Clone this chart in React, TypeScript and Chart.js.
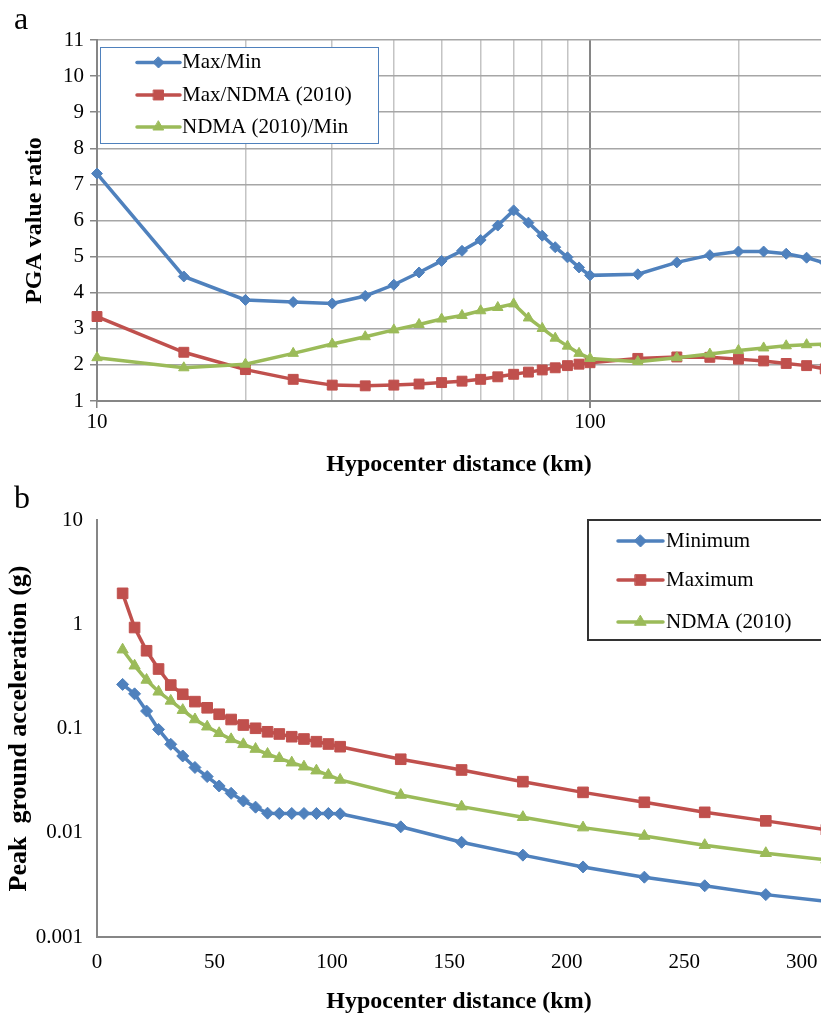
import React, { useEffect, useRef } from 'react';
import { Chart, registerables } from 'chart.js';

Chart.register(...registerables);

// ---------- Panel a: PGA value ratios ----------
const distA = [10, 15, 20, 25, 30, 35, 40, 45, 50, 55, 60, 65, 70, 75, 80, 85, 90, 95, 100, 125, 150, 175, 200, 225, 250, 275, 300];
const ratioMaxMin = [7.3, 4.45, 3.8, 3.74, 3.7, 3.91, 4.22, 4.56, 4.88, 5.16, 5.46, 5.86, 6.28, 5.94, 5.58, 5.26, 4.98, 4.7, 4.48, 4.51, 4.84, 5.04, 5.14, 5.14, 5.08, 4.97, 4.82];
const ratioMaxNdma = [3.34, 2.35, 1.87, 1.6, 1.44, 1.42, 1.44, 1.47, 1.51, 1.55, 1.6, 1.67, 1.74, 1.8, 1.86, 1.92, 1.98, 2.02, 2.06, 2.18, 2.22, 2.21, 2.16, 2.11, 2.04, 1.98, 1.89];
const ratioNdmaMin = [2.2, 1.92, 2.02, 2.32, 2.58, 2.78, 2.97, 3.12, 3.27, 3.37, 3.5, 3.59, 3.69, 3.3, 3.01, 2.74, 2.52, 2.32, 2.18, 2.09, 2.2, 2.3, 2.4, 2.47, 2.53, 2.56, 2.58];
const seriesNamesA = ['Max/Min', 'Max/NDMA (2010)', 'NDMA (2010)/Min'];
const yTicksA = [1, 2, 3, 4, 5, 6, 7, 8, 9, 10, 11];
const xTicksA = [10, 20, 30, 40, 50, 60, 70, 80, 90, 100, 200];
const xLabeledA = [10, 100];

// ---------- Panel b: peak ground acceleration ----------
const distB = [10.9, 16.0, 21.1, 26.2, 31.4, 36.5, 41.7, 46.9, 52.0, 57.1, 62.3, 67.5, 72.6, 77.6, 82.9, 88.1, 93.4, 98.5, 103.5, 129.3, 155.2, 181.3, 206.9, 233.0, 258.7, 284.7, 310.5];
const pgaMinimum = [0.265, 0.215, 0.147, 0.098, 0.0705, 0.0545, 0.0423, 0.0346, 0.0281, 0.0239, 0.0202, 0.0176, 0.0154, 0.0153, 0.0153, 0.0153, 0.0153, 0.0153, 0.0152, 0.0114, 0.0081, 0.0061, 0.0047, 0.00375, 0.0031, 0.00255, 0.0022];
const pgaMaximum = [1.98, 0.93, 0.557, 0.372, 0.261, 0.213, 0.181, 0.158, 0.137, 0.122, 0.108, 0.1005, 0.093, 0.0886, 0.0834, 0.0793, 0.0747, 0.071, 0.0669, 0.0507, 0.04, 0.0309, 0.0244, 0.0196, 0.0157, 0.013, 0.0107];
const pgaNdma = [0.57, 0.4, 0.292, 0.225, 0.184, 0.15, 0.122, 0.104, 0.09, 0.0787, 0.0705, 0.0635, 0.0569, 0.0518, 0.047, 0.043, 0.0394, 0.0358, 0.0321, 0.023, 0.0178, 0.0141, 0.0112, 0.0093, 0.0076, 0.00636, 0.0055];
const seriesNamesB = ['Minimum', 'Maximum', 'NDMA (2010)'];
const yTicksB = [0.001, 0.01, 0.1, 1, 10];
const yTickLabelsB = ['0.001', '0.01', '0.1', '1', '10'];
const xTicksB = [0, 50, 100, 150, 200, 250, 300];

const BLUE = '#4F81BD';
const RED = '#C0504D';
const GREEN = '#9BBB59';
const AXIS = '#868686';
const SERIF = '"Liberation Serif", "Times New Roman", serif';

function drawMarker(ctx: CanvasRenderingContext2D, style: string, x: number, y: number, r: number, color: string) {
  ctx.save();
  ctx.fillStyle = color;
  ctx.strokeStyle = color;
  ctx.lineWidth = 1;
  ctx.beginPath();
  if (style === 'rectRot') {
    ctx.moveTo(x, y - r);
    ctx.lineTo(x + r, y);
    ctx.lineTo(x, y + r);
    ctx.lineTo(x - r, y);
  } else if (style === 'rect') {
    const s = r * Math.SQRT1_2;
    ctx.rect(x - s, y - s, 2 * s, 2 * s);
  } else {
    for (let k = 0; k < 3; k++) {
      const a = (k * 2 * Math.PI) / 3;
      const px = x + Math.sin(a) * r;
      const py = y - Math.cos(a) * r;
      if (k === 0) ctx.moveTo(px, py);
      else ctx.lineTo(px, py);
    }
  }
  ctx.closePath();
  ctx.fill();
  ctx.stroke();
  ctx.restore();
}

const insideLegend = {
  id: 'insideLegend',
  afterDraw(chart: any, _args: any, opts: any) {
    if (!opts || !opts.box) return;
    const ctx = chart.ctx as CanvasRenderingContext2D;
    const b = opts.box;
    ctx.save();
    ctx.fillStyle = '#ffffff';
    ctx.fillRect(b.x, b.y, b.w, b.h);
    ctx.strokeStyle = opts.borderColor;
    ctx.lineWidth = opts.borderWidth;
    ctx.strokeRect(b.x, b.y, b.w, b.h);
    chart.data.datasets.forEach((ds: any, i: number) => {
      const y = opts.rows[i];
      ctx.strokeStyle = ds.borderColor;
      ctx.lineWidth = ds.borderWidth;
      ctx.lineCap = 'round';
      ctx.beginPath();
      ctx.moveTo(opts.x1, y);
      ctx.lineTo(opts.x2, y);
      ctx.stroke();
      drawMarker(ctx, ds.pointStyle, (opts.x1 + opts.x2) / 2, y, ds.pointRadius, ds.pointBackgroundColor);
      ctx.fillStyle = '#000';
      ctx.font = opts.font;
      ctx.textBaseline = 'middle';
      ctx.textAlign = 'left';
      ctx.fillText(ds.label, opts.textX, y);
    });
    ctx.restore();
  },
};

function makeSeries(label: string, xs: number[], ys: number[], color: string, style: string, radius: number, order: number) {
  return {
    label,
    data: xs.map((x, i) => ({ x, y: ys[i] })),
    borderColor: color,
    backgroundColor: color,
    pointBackgroundColor: color,
    pointBorderColor: color,
    pointBorderWidth: 1,
    pointStyle: style,
    pointRadius: radius,
    pointHoverRadius: radius,
    borderWidth: 3.5,
    tension: 0,
    order,
    clip: false,
  };
}

export default function App() {
  const refA = useRef<HTMLCanvasElement>(null);
  const refB = useRef<HTMLCanvasElement>(null);

  useEffect(() => {
    const tickFont = { family: SERIF, size: 21 };
    const titleFont = { family: SERIF, size: 24, weight: 'bold' as const };

    const chartA = new Chart(refA.current as HTMLCanvasElement, {
      type: 'line',
      data: {
        datasets: [
          makeSeries(seriesNamesA[0], distA, ratioMaxMin, BLUE, 'rectRot', 5.5, 3),
          makeSeries(seriesNamesA[1], distA, ratioMaxNdma, RED, 'rect', 7, 2),
          makeSeries(seriesNamesA[2], distA, ratioNdmaMin, GREEN, 'triangle', 6, 1),
        ] as any,
      },
      plugins: [insideLegend as any],
      options: {
        responsive: false,
        animation: false,
        devicePixelRatio: 1,
        events: [],
        layout: { autoPadding: false, padding: { top: 40, left: 0, right: 0, bottom: 0 } },
        plugins: {
          legend: { display: false },
          tooltip: { enabled: false },
          insideLegend: {
            box: { x: 100.5, y: 47.5, w: 278, h: 96 },
            borderColor: BLUE,
            borderWidth: 1,
            rows: [62.5, 95, 127],
            x1: 137,
            x2: 180,
            textX: 182,
            font: `21px ${SERIF}`,
          },
        } as any,
        scales: {
          x: {
            type: 'logarithmic',
            min: 10,
            max: 294.1,
            afterBuildTicks: (s: any) => {
              s.ticks = xTicksA.map((v) => ({ value: v }));
            },
            afterFit: (s: any) => {
              s.height = 79;
              s.paddingLeft = 0;
              s.paddingRight = 0;
            },
            ticks: {
              autoSkip: false,
              maxRotation: 0,
              padding: 2,
              color: '#000',
              font: tickFont,
              callback: (v: any) => (xLabeledA.includes(Number(v)) ? String(v) : ''),
            },
            grid: {
              color: (c: any) => (c.tick && c.tick.value === 100 ? AXIS : '#c4c4c4'),
              lineWidth: (c: any) => (c.tick && c.tick.value === 100 ? 2 : 1.5),
              tickLength: 7,
              tickColor: (c: any) => (c.tick && xLabeledA.includes(c.tick.value) ? AXIS : 'rgba(0,0,0,0)'),
            },
            border: { color: AXIS, width: 2 },
            title: {
              display: true,
              text: 'Hypocenter distance (km)',
              color: '#000',
              font: titleFont,
              padding: { top: 0, bottom: 1 },
            },
          },
          y: {
            type: 'linear',
            min: 1,
            max: 11,
            afterBuildTicks: (s: any) => {
              s.ticks = yTicksA.map((v) => ({ value: v }));
            },
            afterFit: (s: any) => {
              s.width = 97;
              s.paddingTop = 0;
              s.paddingBottom = 0;
            },
            ticks: { padding: 6, color: '#000', font: tickFont },
            grid: { color: '#a6a6a6', lineWidth: 1.5, tickLength: 7, tickColor: AXIS },
            border: { color: AXIS, width: 2 },
            title: {
              display: true,
              text: 'PGA value ratio',
              color: '#000',
              font: titleFont,
              padding: { top: 20, bottom: 0 },
            },
          },
        } as any,
      },
    });

    const chartB = new Chart(refB.current as HTMLCanvasElement, {
      type: 'line',
      data: {
        datasets: [
          makeSeries(seriesNamesB[0], distB, pgaMinimum, BLUE, 'rectRot', 6, 3),
          makeSeries(seriesNamesB[1], distB, pgaMaximum, RED, 'rect', 7.5, 2),
          makeSeries(seriesNamesB[2], distB, pgaNdma, GREEN, 'triangle', 6.5, 1),
        ] as any,
      },
      plugins: [insideLegend as any],
      options: {
        responsive: false,
        animation: false,
        devicePixelRatio: 1,
        events: [],
        layout: { autoPadding: false, padding: { top: 40, left: 0, right: 0, bottom: 0 } },
        plugins: {
          legend: { display: false },
          tooltip: { enabled: false },
          insideLegend: {
            box: { x: 588, y: 40, w: 260, h: 120 },
            borderColor: '#333333',
            borderWidth: 2,
            rows: [61, 100, 142],
            x1: 618,
            x2: 663,
            textX: 666,
            font: `21px ${SERIF}`,
          },
        } as any,
        scales: {
          x: {
            type: 'linear',
            min: 0,
            max: 308.2,
            afterBuildTicks: (s: any) => {
              s.ticks = xTicksB.map((v) => ({ value: v }));
            },
            afterFit: (s: any) => {
              s.height = 78;
              s.paddingLeft = 0;
              s.paddingRight = 0;
            },
            ticks: { autoSkip: false, maxRotation: 0, padding: 13, color: '#000', font: tickFont },
            grid: { display: false, drawTicks: false },
            border: { color: AXIS, width: 2 },
            title: {
              display: true,
              text: 'Hypocenter distance (km)',
              color: '#000',
              font: titleFont,
              padding: { top: 0, bottom: -1 },
            },
          },
          y: {
            type: 'logarithmic',
            min: 0.001,
            max: 10,
            afterBuildTicks: (s: any) => {
              s.ticks = yTicksB.map((v) => ({ value: v }));
            },
            afterFit: (s: any) => {
              s.width = 97;
              s.paddingTop = 0;
              s.paddingBottom = 0;
            },
            ticks: {
              padding: 14,
              color: '#000',
              font: tickFont,
              callback: (v: any) => {
                const i = yTicksB.indexOf(Number(v));
                return i >= 0 ? yTickLabelsB[i] : '';
              },
            },
            grid: { display: false, drawTicks: false },
            border: { color: AXIS, width: 2 },
            title: {
              display: true,
              text: 'Peak  ground acceleration (g)',
              color: '#000',
              font: { family: SERIF, size: 26, weight: 'bold' },
              padding: { top: 4, bottom: 0 },
            },
          },
        } as any,
      },
    });

    return () => {
      chartA.destroy();
      chartB.destroy();
    };
  }, []);

  const letterStyle: React.CSSProperties = {
    position: 'absolute',
    fontFamily: SERIF,
    fontSize: 32,
    lineHeight: '32px',
    color: '#000',
  };

  return (
    <div style={{ position: 'absolute', left: 0, top: 0, width: 821, height: 1015, overflow: 'hidden', background: '#fff' }}>
      <canvas ref={refA} width={821} height={480} style={{ position: 'absolute', left: 0, top: 0, display: 'block' }} />
      <canvas ref={refB} width={821} height={535} style={{ position: 'absolute', left: 0, top: 480, display: 'block' }} />
      <div style={{ ...letterStyle, left: 14, top: 2 }}>a</div>
      <div style={{ ...letterStyle, left: 14, top: 481 }}>b</div>
    </div>
  );
}
